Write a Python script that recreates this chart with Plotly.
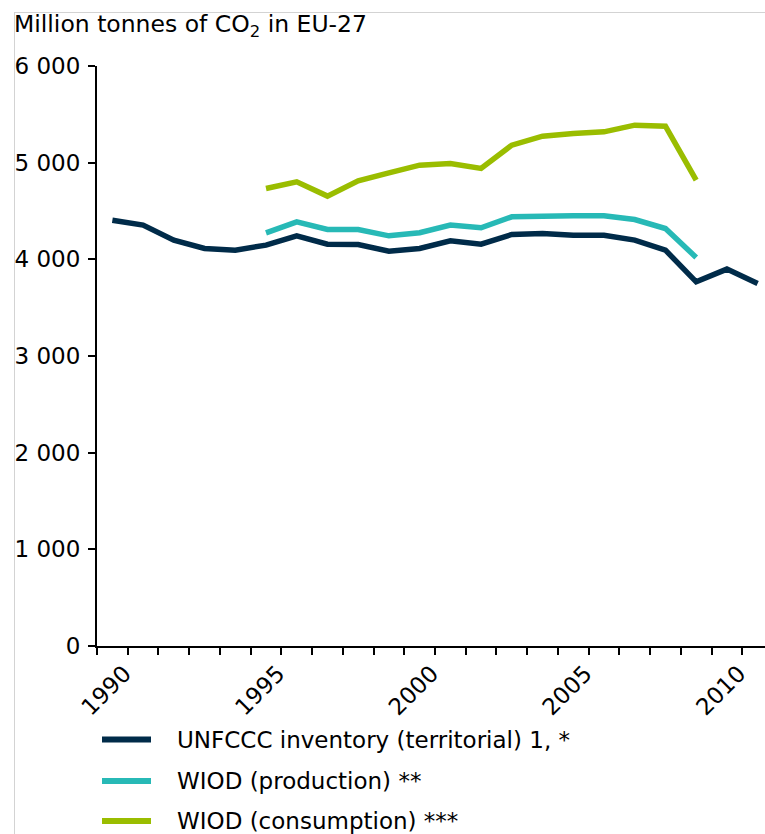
import plotly.graph_objects as go

years = list(range(1990, 2012))
unfccc = [4405, 4354, 4199, 4113, 4095, 4147, 4243, 4157, 4154, 4085, 4113,
          4192, 4157, 4257, 4268, 4250, 4250, 4199, 4095, 3767, 3899, 3751]
wiod_years = list(range(1995, 2010))
wiod_prod = [4274, 4388, 4309, 4309, 4243, 4275, 4354, 4326, 4440, 4450,
             4450, 4450, 4412, 4319, 4020]
wiod_cons = [4733, 4802, 4654, 4812, 4895, 4974, 4991, 4940, 5181, 5274,
             5302, 5319, 5388, 5377, 4819]
series_names = ["UNFCCC inventory (territorial) 1, *",
                "WIOD (production) **",
                "WIOD (consumption) ***"]
series_colors = ["#002B49", "#27B9B6", "#9ABD00"]
y_ticks = [0, 1000, 2000, 3000, 4000, 5000, 6000]
x_ticks = [1990, 1995, 2000, 2005, 2010]
title_text = "Million tonnes of CO<sub>2</sub> in EU-27"

W, H = 765, 834
ML, MR, MT, MB = 97, 0, 66, 188
PW, PH = W - ML - MR, H - MT - MB

def px_x(X):
    return (X - ML) / PW

def px_y(Y):
    return (H - MB - Y) / PH

FONT = "DejaVu Sans"

fig = go.Figure()
for xs, ys, name, col in [(years, unfccc, series_names[0], series_colors[0]),
                          (wiod_years, wiod_prod, series_names[1], series_colors[1]),
                          (wiod_years, wiod_cons, series_names[2], series_colors[2])]:
    fig.add_trace(go.Scatter(x=xs, y=ys, mode="lines", name=name,
                             line=dict(color=col, width=5.5),
                             showlegend=False))

fig.update_layout(
    width=W, height=H, autosize=False,
    margin=dict(l=ML, r=MR, t=MT, b=MB, pad=0),
    paper_bgcolor="white", plot_bgcolor="white",
    separators=". ",
    font=dict(family=FONT, size=20, color="#000000"),
)
fig.update_xaxes(
    range=[1989.5, 2011.24], showgrid=False, zeroline=False,
    showline=True, linecolor="#000000", linewidth=2,
    tickmode="array", tickvals=x_ticks, ticktext=[str(v) for v in x_ticks],
    ticks="", tickangle=-45, ticklabelstandoff=3, ticklabelshift=12,
    tickfont=dict(family=FONT, size=23, color="#000000"),
    minor=dict(ticks="outside", tick0=1989.5, dtick=1, ticklen=7,
               tickwidth=1.5, tickcolor="#000000", showgrid=False),
)
fig.update_yaxes(
    range=[0, 6000], showgrid=False, zeroline=False,
    showline=True, linecolor="#000000", linewidth=2,
    tickmode="array", tickvals=y_ticks, tickformat=",d",
    ticks="outside", ticklen=7, tickwidth=1.5, tickcolor="#000000",
    ticklabelstandoff=3,
    tickfont=dict(family=FONT, size=23, color="#000000"),
)

# title
fig.add_annotation(text=title_text, xref="paper", yref="paper",
                   x=px_x(12), y=px_y(8), xanchor="left", yanchor="top",
                   showarrow=False, font=dict(family=FONT, size=23.5, color="#000000"))

# frame lines
fig.add_shape(type="line", xref="paper", yref="paper",
              x0=px_x(14.5), x1=px_x(14.5), y0=px_y(12), y1=px_y(H),
              line=dict(color="#D3D3D3", width=1))
fig.add_shape(type="line", xref="paper", yref="paper",
              x0=px_x(14.5), x1=px_x(W), y0=px_y(12.5), y1=px_y(12.5),
              line=dict(color="#D3D3D3", width=1))

# legend (manual)
leg_y = [739.5, 781, 821]
for name, col, yy in zip(series_names, series_colors, leg_y):
    fig.add_shape(type="line", xref="paper", yref="paper",
                  x0=px_x(102), x1=px_x(151), y0=px_y(yy), y1=px_y(yy),
                  line=dict(color=col, width=6))
    fig.add_annotation(text=name, xref="paper", yref="paper",
                       x=px_x(175), y=px_y(yy), xanchor="left", yanchor="middle",
                       showarrow=False,
                       font=dict(family=FONT, size=23, color="#000000"))

fig.write_html(
    "out.html",
    config={"displayModeBar": False},
    post_script="document.body.style.margin='0';document.body.style.overflow='hidden';",
)
